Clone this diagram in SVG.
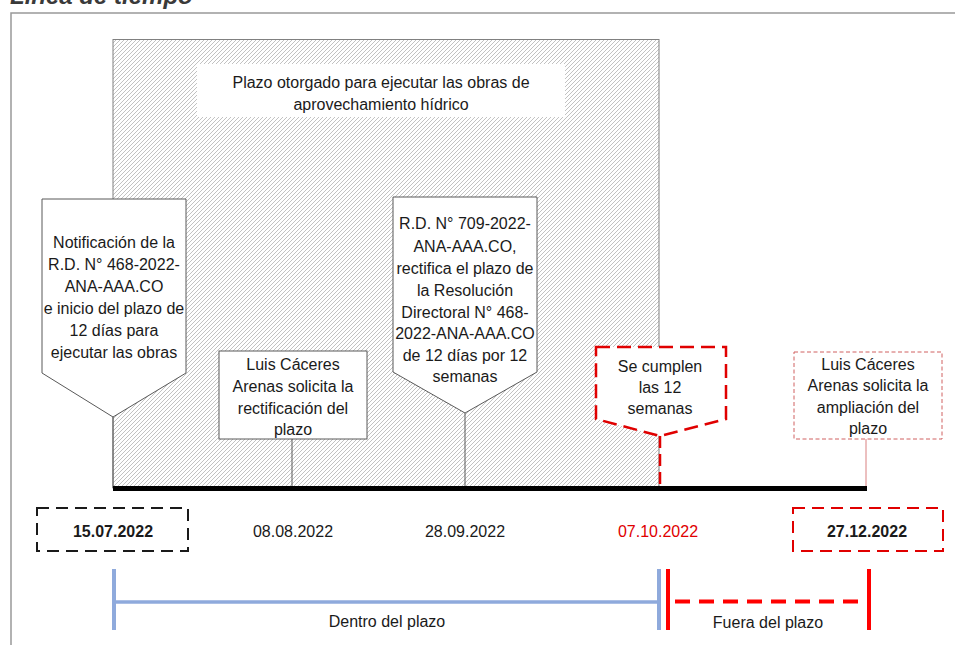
<svg xmlns="http://www.w3.org/2000/svg" width="955" height="645" viewBox="0 0 955 645">
<defs>
<pattern id="hatch" patternUnits="userSpaceOnUse" width="4" height="4">
<rect width="4" height="4" fill="#ffffff"/>
<path d="M-1,1 L1,-1 M0,4 L4,0 M3,5 L5,3" stroke="#c2c2c2" stroke-width="1"/>
</pattern>
</defs>
<style>
text{font-family:"Liberation Sans",Arial,sans-serif;font-size:16px;fill:#1a1a1a;text-anchor:middle}
.node{fill:#ffffff;stroke:#595959;stroke-width:1}
.link{stroke:#595959;stroke-width:1;fill:none}
.bold{font-weight:bold}
.red{fill:#e00000}
</style>
<rect width="955" height="645" fill="#ffffff"/>
<text x="10" y="4" style="font-size:24px;font-weight:bold;font-style:italic;fill:#3a3a3a;text-anchor:start">Línea de tiempo</text>
<path d="M11,650 L11,13 L960,13" fill="none" stroke="#999999" stroke-width="1.5"/>

<g id="plazo-area">
<rect x="113" y="39.5" width="546" height="448.5" fill="url(#hatch)" stroke="#808080" stroke-width="1"/>
<rect x="197" y="64" width="368" height="53" fill="#ffffff"/>
<text x="381" y="88">Plazo otorgado para ejecutar las obras de</text>
<text x="381" y="110">aprovechamiento hídrico</text>
</g>

<g id="connectors">
<line class="link" x1="113" y1="417" x2="113" y2="488"/>
<line class="link" x1="292" y1="439" x2="292" y2="488"/>
<line class="link" x1="465" y1="413" x2="465" y2="488"/>
<line x1="660" y1="436" x2="660" y2="488" stroke="#e00000" stroke-width="2.5" stroke-dasharray="12,6"/>
<line x1="866" y1="439" x2="866" y2="488" stroke="#d98080" stroke-width="1"/>
<line x1="113" y1="488.5" x2="867" y2="488.5" stroke="#000000" stroke-width="5"/>
</g>

<g id="n1">
<path class="node" d="M42,199 L186,199 L186,373 L113,417 L42,373 Z"/>
<text x="114" y="248">Notificación de la</text>
<text x="114" y="270">R.D. N° 468-2022-</text>
<text x="114" y="292">ANA-AAA.CO</text>
<text x="114" y="314">e inicio del plazo de</text>
<text x="114" y="336">12 días para</text>
<text x="114" y="358">ejecutar las obras</text>
</g>

<g id="n2">
<rect class="node" x="219" y="351" width="148" height="88"/>
<text x="293" y="370">Luis Cáceres</text>
<text x="293" y="392">Arenas solicita la</text>
<text x="293" y="414">rectificación del</text>
<text x="293" y="435">plazo</text>
</g>

<g id="n3">
<path class="node" d="M393,197 L537,197 L537,372 L465,413 L393,372 Z"/>
<text x="465" y="229">R.D. N° 709-2022-</text>
<text x="465" y="252">ANA-AAA.CO,</text>
<text x="465" y="274">rectifica el plazo de</text>
<text x="465" y="296">la Resolución</text>
<text x="465" y="318">Directoral N° 468-</text>
<text x="465" y="339">2022-ANA-AAA.CO</text>
<text x="465" y="361">de 12 días por 12</text>
<text x="465" y="382">semanas</text>
</g>

<g id="n4">
<path d="M596,347 L726,347 L726,419 L660,436 L596,419 Z" fill="#ffffff" stroke="#e00000" stroke-width="2.5" stroke-dasharray="14,7"/>
<text x="660" y="372">Se cumplen</text>
<text x="660" y="393">las 12</text>
<text x="660" y="414">semanas</text>
</g>

<g id="n5">
<rect x="794" y="352" width="148" height="87" fill="#ffffff" stroke="#d06060" stroke-width="1" stroke-dasharray="4,2.5"/>
<text x="868" y="370">Luis Cáceres</text>
<text x="868" y="391">Arenas solicita la</text>
<text x="868" y="413">ampliación del</text>
<text x="868" y="434">plazo</text>
</g>

<g id="d1">
<rect x="37" y="508" width="151" height="43" fill="none" stroke="#1a1a1a" stroke-width="2" stroke-dasharray="12,7"/>
<text class="bold" x="113" y="537">15.07.2022</text>
</g>
<g id="d2"><text x="293" y="537">08.08.2022</text></g>
<g id="d3"><text x="465" y="537">28.09.2022</text></g>
<g id="d4"><text class="red" x="658" y="537">07.10.2022</text></g>
<g id="d5">
<rect x="793" y="508" width="150" height="43" fill="none" stroke="#e00000" stroke-width="2" stroke-dasharray="12,7"/>
<text class="bold" x="867" y="537">27.12.2022</text>
</g>

<g id="dentro">
<line x1="114" y1="569" x2="114" y2="630" stroke="#8faadc" stroke-width="4"/>
<line x1="114" y1="602" x2="657" y2="602" stroke="#8faadc" stroke-width="3.5"/>
<line x1="659" y1="569" x2="659" y2="630" stroke="#8faadc" stroke-width="4"/>
<text x="387" y="627">Dentro del plazo</text>
</g>

<g id="fuera">
<line x1="668" y1="569" x2="668" y2="630" stroke="#ff0000" stroke-width="4"/>
<line x1="675" y1="601.5" x2="866" y2="601.5" stroke="#ff0000" stroke-width="4" stroke-dasharray="15,9"/>
<line x1="869" y1="569" x2="869" y2="630" stroke="#ff0000" stroke-width="4"/>
<text x="768" y="628">Fuera del plazo</text>
</g>
</svg>
